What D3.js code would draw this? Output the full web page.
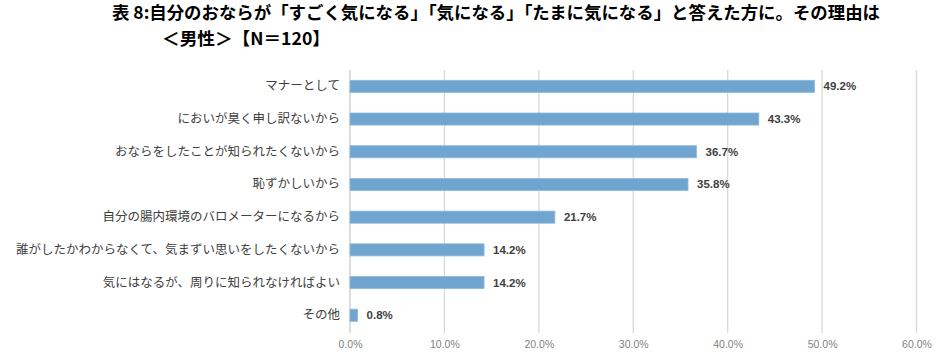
<!DOCTYPE html>
<html><head><meta charset="utf-8">
<script src="https://cdn.jsdelivr.net/npm/d3@7"></script>
<style>body{margin:0;background:#fff}svg{display:block}</style>
</head><body>
<script>
const titleLines = ["表 8:自分のおならが「すごく気になる」「気になる」「たまに気になる」と答えた方に。その理由は", "＜男性＞【N＝120】"];
const categories = ["マナーとして","においが臭く申し訳ないから","おならをしたことが知られたくないから","恥ずかしいから","自分の腸内環境のバロメーターになるから","誰がしたかわからなくて、気まずい思いをしたくないから","気にはなるが、周りに知られなければよい","その他"];
const values = [49.2,43.3,36.7,35.8,21.7,14.2,14.2,0.8];
const tickValues = [0,10,20,30,40,50,60];

const W=940,H=360;
const svg=d3.select("body").append("svg").attr("width",W).attr("height",H);
const font="'Noto Sans CJK JP','Noto Sans',sans-serif";
const x=d3.scaleLinear().domain([0,60]).range([350,916.5]);
const y=d3.scaleBand().domain(categories).range([70,331.6]).paddingInner(0.63).paddingOuter(0.315);

// title
svg.append("text").attr("x",112).attr("y",19).attr("font-family",font).attr("font-weight","bold").attr("font-size",17.5).attr("fill","#000").attr("textLength",768).attr("lengthAdjust","spacingAndGlyphs").text(titleLines[0]);
svg.append("text").attr("x",162).attr("y",45).attr("font-family",font).attr("font-weight","bold").attr("font-size",17.5).attr("fill","#000").attr("textLength",168).attr("lengthAdjust","spacingAndGlyphs").text(titleLines[1]);

// gridlines
svg.append("g").selectAll("line").data(tickValues).join("line")
  .attr("x1",d=>x(d)).attr("x2",d=>x(d)).attr("y1",70).attr("y2",333)
  .attr("stroke","#d9d9d9").attr("stroke-width",1.3);

// axis labels
const xa=d3.axisBottom(x).tickValues(tickValues).tickSize(0).tickPadding(0).tickFormat(d=>d.toFixed(1)+"%");
const gx=svg.append("g").attr("transform","translate(0,341)").call(xa);
gx.select(".domain").remove();
gx.selectAll("text").attr("font-family","'Liberation Sans Narrow','Liberation Sans',sans-serif").attr("font-size",10.5).attr("fill","#7f7f7f");

// category axis
const ya=d3.axisLeft(y).tickSize(0).tickPadding(10);
const gy=svg.append("g").attr("transform","translate(350,0)").call(ya);
gy.select(".domain").remove();
gy.selectAll("text").attr("font-family",font).attr("font-size",12.5).attr("fill","#404040");
svg.append("line").attr("x1",x(0)).attr("x2",x(0)).attr("y1",70).attr("y2",333).attr("stroke","#d9d9d9").attr("stroke-width",1.3);

// bars
const data=categories.map((c,i)=>({c,v:values[i]}));
svg.append("g").selectAll("rect").data(data).join("rect")
  .attr("x",x(0)).attr("y",d=>y(d.c)).attr("width",d=>x(d.v)-x(0)).attr("height",y.bandwidth())
  .attr("fill","#70a5cf").attr("stroke","#8dbbe0").attr("stroke-width",0.8);

// value labels
svg.append("g").selectAll("text").data(data).join("text")
  .attr("x",d=>x(d.v)+9).attr("y",d=>y(d.c)+y.bandwidth()/2).attr("dy","0.35em")
  .attr("font-family","'Liberation Sans',sans-serif").attr("font-size",11.5).attr("font-weight","bold").attr("fill","#404040")
  .text(d=>d.v.toFixed(1)+"%");
</script>
</body></html>
